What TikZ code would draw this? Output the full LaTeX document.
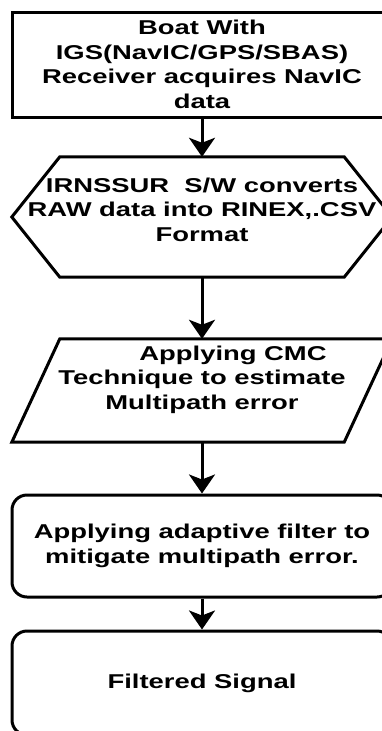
\documentclass[tikz,border=0pt]{standalone}
\usepackage{fontspec}
\setmainfont{Liberation Sans}[FakeStretch=1.37]
\usetikzlibrary{arrows.meta}

\tikzset{
  outline/.style={line width=3pt},
  flow/.style={line width=3pt,-{Stealth[length=19pt,width=26pt,inset=5pt]}},
}

\begin{document}
\begin{tikzpicture}[x=1pt,y=-1pt,
    flowtext/.style={align=center,inner sep=0pt,font=\bfseries\fontsize{20pt}{24.5pt}\selectfont},
    procbox/.style={draw,outline,minimum width=380pt,inner sep=0pt},
    shapebox/.style={minimum width=380pt,inner sep=0pt}]
  \useasboundingbox (0,0) rectangle (382,731);
  \clip (0,0) rectangle (382,731);
  % steps
  \node[procbox,flowtext,minimum height=105pt] (boat) at (202,64.5) {Boat With\\IGS(NavIC/GPS/SBAS)\\Receiver acquires NavIC\\data};
  \node[shapebox,minimum height=120pt] (conv) at (202,217) {};
  \draw[outline] (conv.west) -- ([xshift=48pt]conv.north west) -- ([xshift=-48pt]conv.north east) -- (conv.east) -- ([xshift=-48pt]conv.south east) -- ([xshift=48pt]conv.south west) -- cycle;
  \node[flowtext] (convtext) at (202,209.5) {IRNSSUR\ \ S/W converts\\RAW data into RINEX,.CSV\\Format};
  \node[shapebox,minimum height=103pt] (cmc) at (202,390.5) {};
  \draw[outline] (cmc.south west) -- ([xshift=48pt]cmc.north west) -- (cmc.north east) -- ([xshift=-48pt]cmc.south east) -- cycle;
  \node[flowtext] (cmctext) at (202,379.5) {\hspace*{62pt}Applying CMC\\Technique to estimate\\Multipath error};
  \node[procbox,flowtext,rounded corners=15pt,minimum height=102pt] (filter) at (202,546) {Applying adaptive filter to\\mitigate multipath error.};
  \node[procbox,flowtext,rounded corners=15pt,minimum height=104pt] (signal) at (202,683) {Filtered Signal};
  % arrows
  \draw[flow] (boat) -- (conv);
  \draw[flow] (conv) -- (cmc);
  \draw[flow] (cmc) -- (filter);
  \draw[flow] (filter) -- (signal);
\end{tikzpicture}
\end{document}
